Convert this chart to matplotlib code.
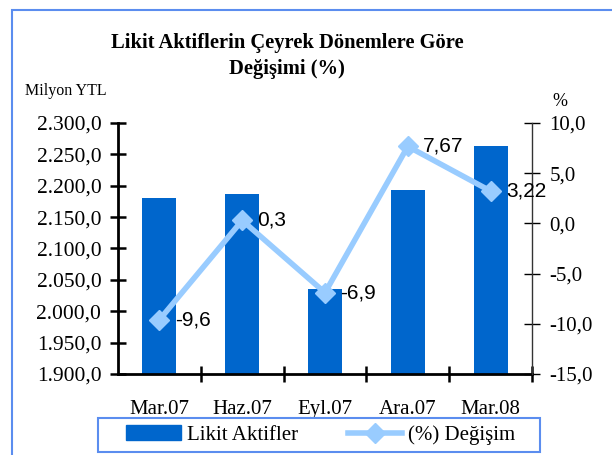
import numpy as np
import matplotlib
matplotlib.use('Agg')
import matplotlib.pyplot as plt
from matplotlib.patches import Rectangle
from matplotlib.lines import Line2D

# data
donem = ['Mar.07', 'Haz.07', 'Eyl.07', 'Ara.07', 'Mar.08']
likit = [2180, 2187, 2036, 2193, 2263]          # Milyon YTL
degisim = [-9.6, 0.3, -6.9, 7.67, 3.22]          # %
degisim_lbl = ['-9,6', '0,3', '-6,9', '7,67', '3,22']
sol_ticks = np.arange(1900, 2301, 50)
sag_ticks = np.arange(-15, 10.1, 5)

serif = 'Liberation Serif'
sans = 'Liberation Sans'
bar_renk = '#0066CC'
cizgi_renk = '#99CCFF'
cerceve = '#5B8DEF'

W, H = 612, 455
fig = plt.figure(figsize=(W/100, H/100), dpi=100)

# blue outer frame
fig.patches.append(Rectangle((12/W, -0.1), 1.2, (H-10)/H + 0.1, transform=fig.transFigure,
                             fill=False, edgecolor=cerceve, lw=1.5))

def tr_fmt(v):
    # 2300 -> 2.300,0
    s = '{:,.1f}'.format(v)
    return s.replace(',', 'X').replace('.', ',').replace('X', '.')

ax = fig.add_axes([118/W, 1-374/H, 414/W, 251/H])
x = np.arange(len(donem))
ax.bar(x, likit, width=0.41, color=bar_renk, zorder=1)
ax.set_ylim(1900, 2300)
ax.set_xlim(-0.5, 4.5)
ax.set_yticks(sol_ticks)
ax.set_yticklabels([tr_fmt(v) for v in sol_ticks], fontfamily=serif, fontsize=15.5)
ax.set_xticks(x + 0.5)
ax.set_xticklabels([])
ax.set_xticks(x, minor=True)
ax.set_xticklabels(donem, minor=True, fontfamily=serif, fontsize=15)
ax.tick_params(axis='x', which='major', direction='inout', length=12, width=1.8)
ax.tick_params(axis='x', which='minor', length=0, pad=19)
ax.tick_params(axis='y', direction='inout', length=12, width=1.8, pad=6)
for s in ['top', 'right']:
    ax.spines[s].set_visible(False)
ax.spines['left'].set_linewidth(2)
ax.spines['bottom'].set_linewidth(2)

ax2 = ax.twinx()
ax2.set_ylim(-15, 10)
ax2.set_yticks(sag_ticks)
ax2.set_yticklabels([f'{v:.1f}'.replace('.', ',') for v in sag_ticks],
                    fontfamily=serif, fontsize=15)
ax2.tick_params(axis='y', direction='inout', length=11, width=1, pad=7)
for s in ['top', 'left', 'bottom']:
    ax2.spines[s].set_visible(False)
ax2.spines['right'].set_linewidth(1)
ax2.spines['right'].set_color('#333333')
ax2.plot(x, degisim, color=cizgi_renk, lw=4, marker='D', markersize=10,
         markeredgecolor=cizgi_renk, zorder=3)
for xi, yi, t in zip(x, degisim, degisim_lbl):
    ax2.annotate(t, (xi, yi), xytext=(11, 0), textcoords='offset points',
                 ha='left', va='center', fontfamily=sans, fontsize=15, color='black')

# titles and axis names
fig.text(287/W, 1-56/H, 'Likit Aktiflerin Çeyrek Dönemlere Göre\nDeğişimi (%)',
         ha='center', va='center', fontfamily=serif, fontsize=14.8, fontweight='bold',
         linespacing=1.45)
fig.text(25/W, 1-91/H, 'Milyon YTL', ha='left', va='center', fontfamily=serif, fontsize=11.5)
fig.text(560/W, 1-101/H, '%', ha='center', va='center', fontfamily=serif, fontsize=13)

# legend with its own box
fig.patches.append(Rectangle((98/W, 1-452/H), 442/W, 34/H, transform=fig.transFigure,
                             fill=False, edgecolor=cerceve, lw=1.5))
h_bar = Rectangle((0, 0), 1, 1, color=bar_renk)
h_ln = Line2D([], [], color=cizgi_renk, lw=4, marker='D', markersize=10)
fig.legend([h_bar, h_ln], ['Likit Aktifler', '(%) Değişim'], ncol=2,
           loc='center', bbox_to_anchor=(321/W, 1-435/H),
           prop={'family': serif, 'size': 15}, handlelength=2.6,
           columnspacing=2.4, handletextpad=0.3, frameon=False,
           borderpad=0.2, borderaxespad=0)

fig.savefig('out.png', dpi=100)
